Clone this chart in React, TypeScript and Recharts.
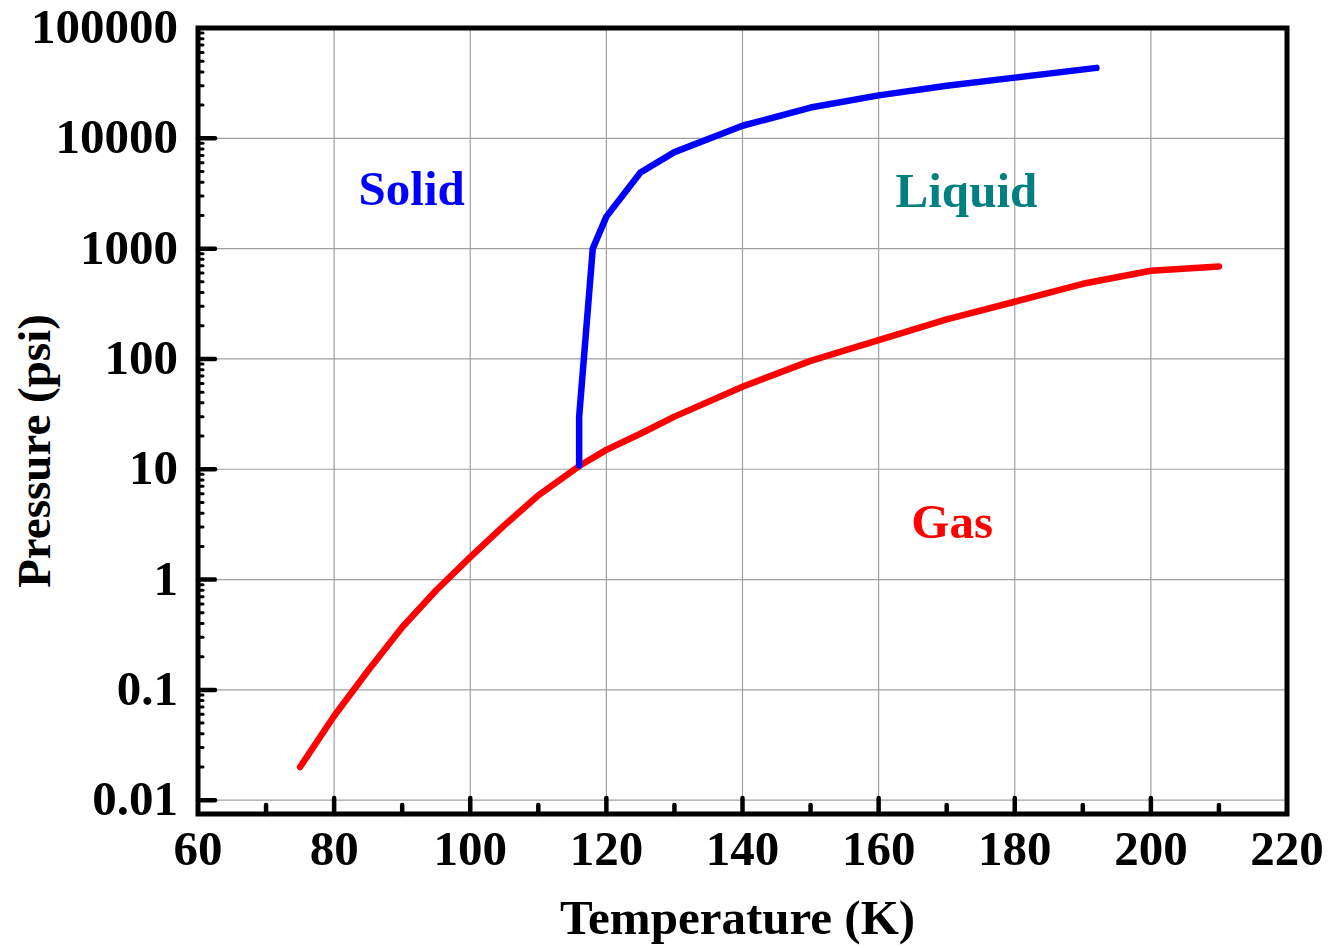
import React from 'react';
import {
  ComposedChart,
  Line,
  XAxis,
  YAxis,
  CartesianGrid,
  ReferenceArea,
  ReferenceDot,
} from 'recharts';

// Liquid–gas (vapour pressure) boundary
const gasTemps = [75, 80, 85, 90, 95, 100, 105, 110, 116, 120, 125, 130, 140, 150, 160, 170, 180, 190, 200, 210];
const gasPressures = [0.02, 0.058, 0.15, 0.37, 0.8, 1.6, 3.1, 5.8, 10.7, 15, 21, 30, 56, 96, 148, 228, 330, 480, 630, 690];

// Solid–liquid (melting) boundary, starting at the triple point
const meltTemps = [116, 116, 118, 120, 125, 130, 140, 150, 160, 170, 180, 192];
const meltPressures = [10.8, 30, 1000, 1950, 4900, 7500, 13000, 19000, 24500, 30000, 35500, 43500];

// Axis ticks
const xTicks = [60, 70, 80, 90, 100, 110, 120, 130, 140, 150, 160, 170, 180, 190, 200, 210, 220];
const xGridValues = [80, 100, 120, 140, 160, 180, 200];
const yDecades = [0.01, 0.1, 1, 10, 100, 1000, 10000, 100000];
const yMinorSteps = [2, 3, 4, 5, 6, 7, 8, 9];

// Region names
const phaseNames = ['Solid', 'Liquid', 'Gas'];
const phaseTemps = [91.4, 172.9, 170.8];
const phasePressures = [2500, 2360, 2.36];
const phaseColors = ['#0000ff', '#008080', '#ff0000'];

const X_MIN = 60;
const X_MAX = 220;
const Y_MIN = 0.0075;
const Y_MAX = 100000;

const FONT = '"Liberation Serif", "Times New Roman", serif';
const FONT_SIZE = 49;
const Y_TITLE_SIZE = 47;
const CURVE_WIDTH = 6.5;

const gasData = gasTemps.map((t, i) => ({ t, p: gasPressures[i] }));
const meltData = meltTemps.map((t, i) => ({ t, p: meltPressures[i] }));

const yMinor = yDecades.slice(0, -1).flatMap((d) => yMinorSteps.map((m) => m * d));
const yTicks = [...yDecades, ...yMinor].sort((a, b) => a - b);

const formatPressure = (v: number) => (v < 1 ? String(v) : v.toFixed(0));

const XTick = (props: any) => {
  const { x, y, payload } = props;
  const v = payload.value as number;
  const major = v % 20 === 0;
  return (
    <g>
      {v > X_MIN && v < X_MAX && (
        <line
          x1={x}
          y1={y}
          x2={x}
          y2={y - (major ? 16 : 9)}
          stroke="#000"
          strokeWidth={4.5}
          strokeLinecap="round"
        />
      )}
      {major && (
        <text
          x={x}
          y={y + 51}
          textAnchor="middle"
          fontFamily={FONT}
          fontWeight="bold"
          fontSize={FONT_SIZE}
          fill="#000"
        >
          {v}
        </text>
      )}
    </g>
  );
};

const YTick = (props: any) => {
  const { x, y, payload } = props;
  const v = payload.value as number;
  const major = yDecades.includes(v);
  return (
    <g>
      {v < Y_MAX && (
        <line
          x1={x}
          y1={y}
          x2={x + (major ? 17 : 5)}
          y2={y}
          stroke="#000"
          strokeWidth={major ? 4.5 : 3}
          strokeLinecap="round"
        />
      )}
      {major && (
        <text
          x={x - 20}
          y={y + 15}
          textAnchor="end"
          fontFamily={FONT}
          fontWeight="bold"
          fontSize={FONT_SIZE}
          fill="#000"
        >
          {formatPressure(v)}
        </text>
      )}
    </g>
  );
};

const XTitle = (props: any) => {
  const vb = props.viewBox;
  return (
    <text
      x={vb.x + vb.width / 2 - 5}
      y={vb.y + 120}
      textAnchor="middle"
      fontFamily={FONT}
      fontWeight="bold"
      fontSize={FONT_SIZE}
      fill="#000"
    >
      Temperature (K)
    </text>
  );
};

const YTitle = (props: any) => {
  const vb = props.viewBox;
  const cx = vb.x + 42;
  const cy = vb.y + vb.height / 2 + 30;
  return (
    <text
      x={cx}
      y={cy}
      transform={`rotate(-90 ${cx} ${cy})`}
      textAnchor="middle"
      fontFamily={FONT}
      fontWeight="bold"
      fontSize={Y_TITLE_SIZE}
      fill="#000"
    >
      Pressure (psi)
    </text>
  );
};

export default function App() {
  return (
    <div style={{ margin: '-8px 0 0 -8px', width: 1330, height: 948 }}>
      <ComposedChart
        width={1330}
        height={948}
        margin={{ top: 28, right: 43, bottom: 0, left: 8 }}
      >
        <CartesianGrid
          stroke="#a0a0a0"
          strokeWidth={1.2}
          horizontalValues={yDecades}
          verticalValues={xGridValues}
        />
        <XAxis
          type="number"
          dataKey="t"
          domain={[X_MIN, X_MAX]}
          ticks={xTicks}
          interval={0}
          allowDataOverflow
          height={134}
          tickSize={0}
          tickMargin={0}
          axisLine={false}
          tickLine={false}
          tick={<XTick />}
          label={{ content: <XTitle /> }}
        />
        <YAxis
          type="number"
          dataKey="p"
          scale="log"
          domain={[Y_MIN, Y_MAX]}
          ticks={yTicks}
          interval={0}
          allowDataOverflow
          width={190}
          tickSize={0}
          tickMargin={0}
          axisLine={false}
          tickLine={false}
          tick={<YTick />}
          label={{ content: <YTitle /> }}
        />
        <Line
          data={gasData}
          dataKey="p"
          type="linear"
          stroke="#ff0000"
          strokeWidth={CURVE_WIDTH}
          strokeLinecap="round"
          strokeLinejoin="round"
          dot={false}
          activeDot={false}
          isAnimationActive={false}
        />
        <Line
          data={meltData}
          dataKey="p"
          type="linear"
          stroke="#0000ff"
          strokeWidth={CURVE_WIDTH}
          strokeLinecap="round"
          strokeLinejoin="round"
          dot={false}
          activeDot={false}
          isAnimationActive={false}
        />
        <ReferenceArea
          x1={X_MIN}
          x2={X_MAX}
          y1={Y_MIN}
          y2={Y_MAX}
          fill="none"
          fillOpacity={0}
          stroke="#000"
          strokeWidth={5}
          ifOverflow="visible"
        />
        {phaseNames.map((name, i) => (
          <ReferenceDot
            key={name}
            x={phaseTemps[i]}
            y={phasePressures[i]}
            r={0}
            ifOverflow="visible"
            shape={(p: any) => (
              <text
                x={p.cx}
                y={p.cy}
                textAnchor="middle"
                fontFamily={FONT}
                fontWeight="bold"
                fontSize={FONT_SIZE}
                fill={phaseColors[i]}
              >
                {name}
              </text>
            )}
          />
        ))}
      </ComposedChart>
    </div>
  );
}
